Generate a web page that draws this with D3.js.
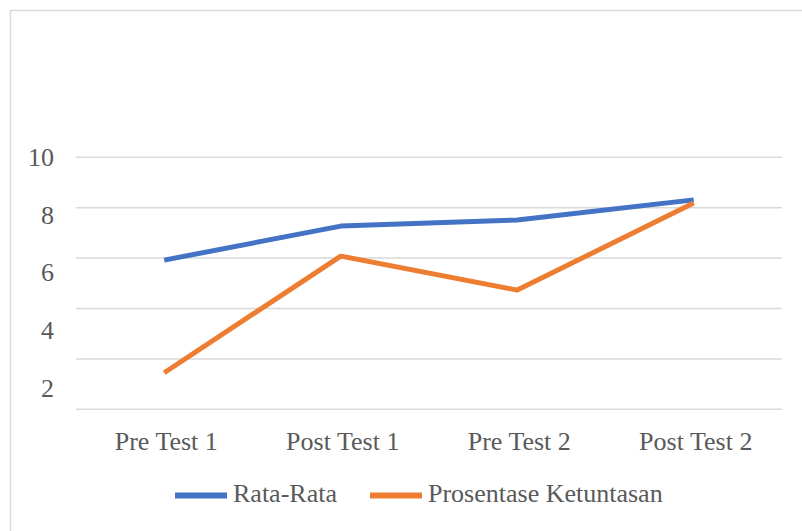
<!DOCTYPE html>
<html>
<head>
<meta charset="utf-8">
<script src="https://cdn.jsdelivr.net/npm/d3@7"></script>
<style>
  body { margin: 0; background: #fff; }
  text { font-family: "Liberation Serif", "DejaVu Serif", serif; fill: #595959; }
</style>
</head>
<body>
<script>
// data
var categories = ["Pre Test 1", "Post Test 1", "Pre Test 2", "Post Test 2"];
var rataRata = [5.92, 7.27, 7.51, 8.31];
var ketuntasan = [1.45, 6.08, 4.73, 8.19];
var gridValues = [0, 2, 4, 6, 8, 10];
var tickLabels = [10, 8, 6, 4, 2];
var seriesNames = ["Rata-Rata", "Prosentase Ketuntasan"];
var seriesColors = ["#4472C4", "#ED7D31"];

var width = 802, height = 531;
var fontSize = "26px";

var svg = d3.select("body").append("svg")
  .attr("width", width)
  .attr("height", height);

// chart frame (runs off the right and bottom of the picture)
svg.append("rect")
  .attr("x", 10.5).attr("y", 10.5)
  .attr("width", 820).attr("height", 540)
  .attr("fill", "#fff")
  .attr("stroke", "#d9d9d9")
  .attr("stroke-width", 1.5);

var scalex = d3.scaleBand()
  .domain(categories)
  .range([76, 782]);

var scaley = d3.scaleLinear()
  .domain([0, 10])
  .range([409.3, 157.3]);

// the tick labels in the picture sit on their own spacing, not on the gridlines
var labely = d3.scaleLinear()
  .domain([2, 10])
  .range([396.7, 166]);

// gridlines
svg.append("g")
  .selectAll("line")
  .data(gridValues)
  .enter().append("line")
  .attr("x1", 76).attr("x2", 782)
  .attr("y1", d => scaley(d)).attr("y2", d => scaley(d))
  .attr("stroke", "#d9d9d9")
  .attr("stroke-width", 1.5);

// y labels
svg.append("g")
  .selectAll("text")
  .data(tickLabels)
  .enter().append("text")
  .attr("x", 54)
  .attr("y", d => labely(d))
  .attr("text-anchor", "end")
  .style("font-size", fontSize)
  .text(d => d);

// x labels
var axisx = d3.axisBottom(scalex).tickSize(0).tickPadding(0);
var gx = svg.append("g")
  .attr("transform", "translate(2,450)")
  .call(axisx);
gx.select(".domain").remove();
gx.selectAll("text")
  .attr("dy", 0)
  .attr("y", 0)
  .style("font-size", fontSize)
  .style("font-family", "'Liberation Serif', 'DejaVu Serif', serif")
  .attr("fill", "#595959");

// lines
var line = d3.line()
  .x((d, i) => scalex(categories[i]) + scalex.bandwidth() / 2)
  .y(d => scaley(d));

[rataRata, ketuntasan].forEach(function (s, k) {
  svg.append("path")
    .datum(s)
    .attr("fill", "none")
    .attr("stroke", seriesColors[k])
    .attr("stroke-width", 5)
    .attr("stroke-linejoin", "round")
    .attr("stroke-linecap", "butt")
    .attr("d", line);
});

// legend
var legendX = [175, 370];
var leg = svg.append("g")
  .selectAll("g")
  .data(seriesNames)
  .enter().append("g")
  .attr("transform", (d, i) => "translate(" + legendX[i] + ",495.5)");
leg.append("line")
  .attr("x1", 0).attr("x2", 52)
  .attr("stroke", (d, i) => seriesColors[i])
  .attr("stroke-width", 6);
leg.append("text")
  .attr("x", 58)
  .attr("y", 6.5)
  .style("font-size", fontSize)
  .text(d => d);
</script>
</body>
</html>
